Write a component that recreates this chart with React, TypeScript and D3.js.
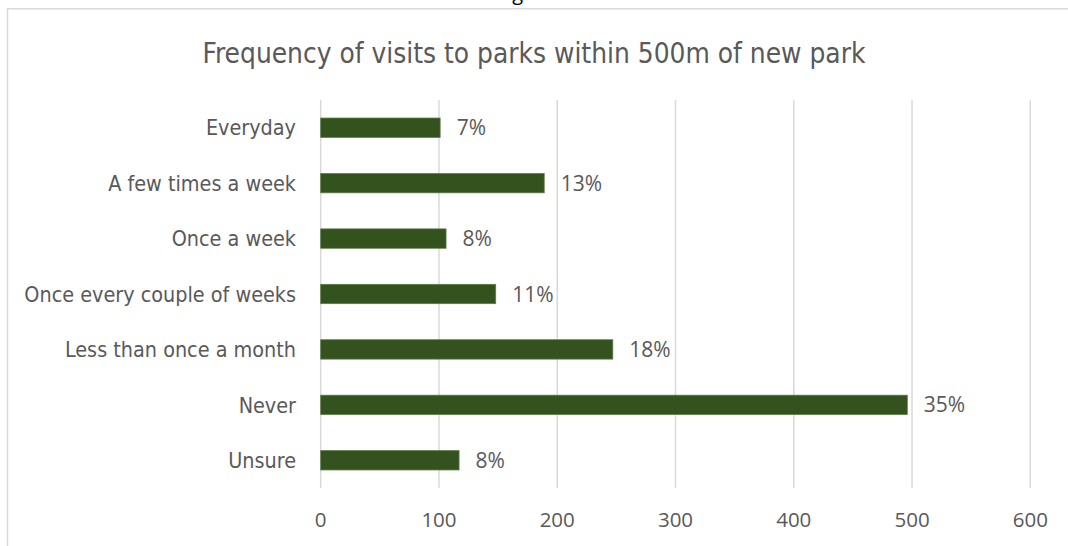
import React from "react";
import * as d3 from "d3";

const categories = [
  "Everyday",
  "A few times a week",
  "Once a week",
  "Once every couple of weeks",
  "Less than once a month",
  "Never",
  "Unsure",
];
const counts = [101, 189, 106, 148, 247, 496, 117];
const percentLabels = ["7%", "13%", "8%", "11%", "18%", "35%", "8%"];
const xTicks = [0, 100, 200, 300, 400, 500, 600];
const title = "Frequency of visits to parks within 500m of new park";

const W = 1068;
const H = 546;
const TEXT = "#595959";
const GRID = "#d9d9d9";
const BAR = "#33521e";
const NARROW = "'DejaVu Sans Condensed', 'Open Sans', sans-serif";
const NUM = "'Open Sans', 'Noto Sans', sans-serif";

export default function App() {
  const x = d3.scaleLinear().domain([0, 600]).range([320.7, 1030.3]);
  const y = d3
    .scaleBand<string>()
    .domain(categories)
    .range([100, 488])
    .paddingInner(0.65)
    .paddingOuter(0.325);
  const bw = y.bandwidth();

  return (
    <svg
      width={W}
      height={H}
      style={{ position: "absolute", left: 0, top: 0, background: "#fff" }}
    >
      <rect x={0} y={0} width={W} height={H} fill="#fff" />
      <text x={497} y={0} fontFamily={NUM} fontSize={20} fill="#000">
        Figure 3
      </text>
      <rect
        x={7.5}
        y={8.75}
        width={1200}
        height={800}
        fill="none"
        stroke={GRID}
        strokeWidth={1.5}
      />
      <text
        x={534}
        y={63}
        textAnchor="middle"
        fontFamily={NARROW}
        fontSize={27.8}
        fill={TEXT}
      >
        {title}
      </text>
      {xTicks.map((t) => (
        <g key={t}>
          <line
            x1={x(t)}
            x2={x(t)}
            y1={100}
            y2={488}
            stroke={GRID}
            strokeWidth={1.5}
          />
          <text
            x={x(t)}
            y={527}
            textAnchor="middle"
            fontFamily={NUM}
            fontSize={20.5}
            fill={TEXT}
          >
            {t}
          </text>
        </g>
      ))}
      {categories.map((c, i) => {
        const yc = (y(c) as number) + bw / 2;
        return (
          <g key={c}>
            <rect
              x={x(0)}
              y={y(c) as number}
              width={x(counts[i]) - x(0)}
              height={bw}
              fill={BAR}
              stroke="#5e7c48"
              strokeWidth={0.75}
            />
            <text
              x={296}
              y={yc}
              dy="0.36em"
              textAnchor="end"
              fontFamily={NARROW}
              fontSize={21.4}
              fill={TEXT}
            >
              {c}
            </text>
            <text
              x={x(counts[i]) + 16.5}
              y={yc}
              dy="0.36em"
              fontFamily={NUM}
              fontSize={21}
              fill={TEXT}
            >
              {percentLabels[i]}
            </text>
          </g>
        );
      })}
    </svg>
  );
}
